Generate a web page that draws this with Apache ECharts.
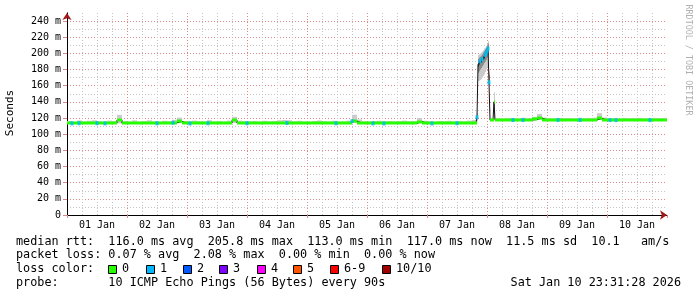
<!DOCTYPE html>
<html><head><meta charset="utf-8">
<script src="https://cdn.jsdelivr.net/npm/echarts@6/dist/echarts.min.js"></script>
<style>html,body{margin:0;padding:0;background:#fff}#c{width:697px;height:297px}</style>
</head><body><div id="c"></div>
<script>
// ---- data (hours since 01 Jan 00:00) ----
const dayLabels = ['01 Jan','02 Jan','03 Jan','04 Jan','05 Jan','06 Jan','07 Jan','08 Jan','09 Jan','10 Jan'];

const hours = [
  0,2,4,6,8,10,12,14,16,18,20,22,
  24,26,28,30,32,34,36,38,40,42,44,46,
  48,50,52,54,56,58,60,62,64,66,68,70,
  72,74,76,78,80,82,84,86,88,90,92,94,
  96,98,100,102,104,106,108,110,112,114,116,118,
  120,122,124,126,128,130,132,134,136,138,140,142,
  144,146,148,150,152,154,156,158,160,162,
  163.6,164.0,164.4,164.8,165.2,165.6,166.0,166.4,166.8,167.2,167.6,168.0,168.4,168.8,169.2,169.6,170.0,170.4,170.8,171.2,171.6,
  172,174,176,178,180,182,184,186,188,190,192,194,196,198,200,202,204,206,208,210,
  212,214,216,218,220,222,224,226,228,230,232,234,236,238,240
];
const median = [
  113.5,113.4,113.6,113.3,113.5,113.9,113.6,113.4,113.5,113.7,117.5,113.6,
  113.4,113.5,113.3,113.6,113.4,113.5,113.4,113.6,113.5,114.2,115.8,113.6,
  113.3,113.4,113.5,113.3,113.6,113.4,113.5,113.4,113.6,117.2,113.8,113.4,
  113.5,113.4,113.6,113.5,113.4,113.5,113.7,114.2,113.9,113.5,113.4,113.5,
  113.3,113.4,113.5,113.6,113.4,113.5,113.3,113.4,113.6,116.2,113.8,113.4,
  113.3,113.4,113.5,113.3,113.4,113.5,113.4,113.6,113.5,113.4,115.6,113.7,
  113.4,113.3,113.5,113.4,113.6,113.4,113.5,113.4,113.6,113.8,
  113.6,121,186,188,190,191,193,194,196,198,200,203,206,164,117.6,117.5,117.4,117.5,140,117.6,117.5,
  117.5,117.4,117.6,117.5,117.4,117.6,117.5,118.2,120.0,117.8,117.5,117.4,117.6,117.5,117.4,117.5,117.6,117.4,117.5,117.6,
  119.5,117.7,117.5,117.4,117.5,117.6,117.4,117.5,117.6,117.5,117.4,117.5,117.6,117.5,117.5
];
const smokeLo = [
  112.9,112.8,113.0,112.7,112.9,113.2,113.0,112.8,112.9,113.1,113.4,113.0,
  112.8,112.9,112.7,113.0,112.8,112.9,112.8,113.0,112.9,113.4,113.9,113.0,
  112.7,112.8,112.9,112.7,113.0,112.8,112.9,112.8,113.0,113.8,113.2,112.8,
  112.9,112.8,113.0,112.9,112.8,112.9,113.1,113.5,113.3,112.9,112.8,112.9,
  112.7,112.8,112.9,113.0,112.8,112.9,112.7,112.8,113.0,113.9,113.2,112.8,
  112.7,112.8,112.9,112.7,112.8,112.9,112.8,113.0,112.9,112.8,113.6,113.1,
  112.8,112.7,112.9,112.8,113.0,112.8,112.9,112.8,113.0,113.2,
  112.9,116,166,166,167,168,170,172,174,177,180,183,186,160,117,117,116.9,117,120,117,116.9,
  116.9,116.8,117.0,116.9,116.8,117.0,116.9,117.4,117.8,117.1,116.9,116.8,117.0,116.9,116.8,116.9,117.0,116.8,116.9,117.0,
  117.6,117.1,116.9,116.8,116.9,117.0,116.8,116.9,117.0,116.9,116.8,116.9,117.0,116.9,116.9
];
const smokeHi = [
  116.4,115.3,117.0,115.6,116.6,117.2,115.9,115.4,116.8,116.2,124.0,116.1,
  115.5,117.1,115.6,116.4,117.2,115.8,115.5,116.6,116.1,117.8,120.5,116.4,
  115.6,116.8,116.0,115.7,117.3,115.9,116.2,115.5,116.8,121.5,116.8,116.1,
  115.8,116.4,115.6,116.6,115.9,116.3,117.2,117.6,117.3,116.1,116.6,115.7,
  115.5,116.4,117.0,116.1,115.7,116.6,115.6,115.9,116.8,124.0,118.2,116.0,
  115.6,116.3,116.7,115.8,116.2,115.9,116.3,116.8,116.0,116.2,120.0,116.7,
  115.9,115.6,116.4,116.1,116.6,115.8,116.4,115.9,116.8,117.6,
  116.5,126,198,199,200,201,202,204,206,207,209,212,215,178,119.5,119.8,119.6,120.1,152,119.9,119.6,
  119.7,119.4,120.1,119.7,119.5,120.3,119.7,121.5,125.0,120.6,119.7,119.5,120.2,119.7,120.0,119.5,120.3,119.7,120.0,120.4,
  126.0,120.7,119.7,120.1,119.5,120.2,119.7,120.1,120.3,119.7,120.0,120.2,119.7,120.1,120.0
];
// darker inner smoke during the 07 Jan spike (last entry closes the band)
const darkHours = [164.4,164.8,165.2,165.6,166.0,166.4,166.8,167.2,167.6,168.0,168.4,168.8,169.2];
const darkLo    = [176,178,180,182,184,186,188,190,192,195,198,162,null];
const darkHi    = [193,195,196,197,199,201,203,205,207,210,212,174,null];
// median drawn dark (no loss colour visible) during the spike
const darkMedianHours = [164.4,164.8,165.6,166.4,166.8];
// times with 1/10 packet loss
const loss1Hours = [2,4.8,12,15.2,36,42.4,49.2,56.4,72,88,107.6,114,122.4,126.8,146,156,
  164.0,165.2,166.0,167.2,167.6,168.0,168.4,168.8,
  178.4,182.4,196.4,205.2,217.2,219.6,233.2];

const lossLabels = ['0','1','2','3','4','5','6-9','10/10'];
const lossColors = ['#26ff00','#00b8ff','#0059ff','#7e00ff','#ff00ff','#ff5500','#ff0000','#a00000'];

// ---- build ----
const MONO = '"DejaVu Sans Mono", monospace';
function medianAt(h){ let v = median[0]; for (let i=0;i<hours.length;i++){ if (hours[i] <= h + 1e-9) v = median[i]; } return v; }

const smokeData = [], medData = [], darkData = [];
for (let i=0;i<hours.length-1;i++){
  smokeData.push([hours[i], hours[i+1], smokeLo[i], smokeHi[i]]);
  const dark = darkMedianHours.some(function(h){ return Math.abs(h-hours[i]) < 1e-6; });
  medData.push([hours[i], hours[i+1], median[i], dark ? 1 : 0]);
}
for (let i=0;i<darkHours.length-1;i++) darkData.push([darkHours[i], darkHours[i+1], darkLo[i], darkHi[i]]);

function bandRenderer(color){
  return function(params, api){
    const p0 = api.coord([api.value(0), api.value(3)]);
    const p1 = api.coord([api.value(1), api.value(2)]);
    return {type:'rect', shape:{x:p0[0], y:p0[1], width:p1[0]-p0[0], height:p1[1]-p0[1]}, style:{fill:color}};
  };
}

const chart = echarts.init(document.getElementById('c'), null, {renderer:'canvas', width:697, height:297});
const minorSplit = {show:true, showMinLine:false, showMaxLine:false, lineStyle:{color:'#c4c4c4', type:[1,2], width:1}};
const majorSplit = {show:true, showMinLine:false, showMaxLine:false, lineStyle:{color:'#e08888', type:[1,2], width:1}};

const graphics = [
  {type:'text', x:10, y:113, rotation:Math.PI/2, style:{text:'Seconds', font:'11px '+MONO, fill:'#000', align:'center', verticalAlign:'middle'}},
  {type:'text', x:688, y:60, rotation:-Math.PI/2, style:{text:'RRDTOOL / TOBI OETIKER', font:'8.4px '+MONO, fill:'#b0b0b0', align:'center', verticalAlign:'middle'}}
];
function txt(x, y, s, align){ graphics.push({type:'text', x:x, y:y, style:{text:s, font:'11.8px '+MONO, fill:'#000', align:align||'left', verticalAlign:'middle'}}); }
txt(16,241.5,'median rtt:  116.0 ms avg  205.8 ms max  113.0 ms min  117.0 ms now  11.5 ms sd  10.1   am/s');
txt(16,255,'packet loss: 0.07 % avg  2.08 % max  0.00 % min  0.00 % now');
txt(16,269,'loss color:');
const boxX = [108,146,183,219,257,293,330,382];
for (let i=0;i<lossLabels.length;i++){
  graphics.push({type:'rect', shape:{x:boxX[i]+0.5, y:265.5, width:8, height:8}, style:{fill:lossColors[i], stroke:'#000', lineWidth:1}});
  txt(boxX[i]+14, 269, lossLabels[i]);
}
txt(16,282.7,'probe:       10 ICMP Echo Pings (56 Bytes) every 90s');
txt(681,282.7,'Sat Jan 10 23:31:28 2026','right');

chart.setOption({
  animation:false,
  backgroundColor:'#fff',
  grid:{left:67, right:30, top:13, bottom:82, containLabel:false, outerBoundsMode:'none'},
  xAxis:[
    {type:'value', min:0, max:240, interval:6, position:'bottom',
     axisLine:{show:true, onZero:false, symbol:['none','arrow'], symbolSize:[7,7], lineStyle:{color:'#a01818', width:1}},
     axisTick:{show:false},
     axisLabel:{show:true, margin:5, fontFamily:MONO, fontSize:10, color:'#000', showMinLabel:true, showMaxLabel:true,
       formatter:function(v){ return (v % 24 === 12) ? dayLabels[(v-12)/24] : ''; }},
     splitLine:minorSplit},
    {type:'value', min:0, max:240, interval:24, position:'bottom',
     axisLine:{show:true, onZero:false, lineStyle:{color:'#000', width:1}},
     axisTick:{show:true, length:3, lineStyle:{color:'#e08888'}},
     axisLabel:{show:false}, splitLine:majorSplit}
  ],
  yAxis:[
    {type:'value', min:0, max:250, interval:10, position:'left',
     axisLine:{show:true, onZero:false, symbol:['none','arrow'], symbolSize:[7,7], lineStyle:{color:'#a01818', width:1}},
     axisTick:{show:false}, axisLabel:{show:false}, splitLine:minorSplit},
    {type:'value', min:0, max:250, interval:20, position:'left',
     axisLine:{show:true, onZero:false, lineStyle:{color:'#000', width:1}},
     axisTick:{show:true, length:4, lineStyle:{color:'#e08888'}},
     axisLabel:{margin:6, fontFamily:MONO, fontSize:10, color:'#000', showMaxLabel:false,
       formatter:function(v){ return v === 0 ? '0' : v + ' m'; }},
     splitLine:majorSplit}
  ],
  series:[
    {type:'custom', name:'smoke', xAxisIndex:0, yAxisIndex:0, z:1, silent:true, data:smokeData,
     encode:{x:[0,1], y:[2,3]}, renderItem:bandRenderer('#cbcbcb')},
    {type:'custom', name:'smokeDark', xAxisIndex:0, yAxisIndex:0, z:2, silent:true, data:darkData,
     encode:{x:[0,1], y:[2,3]}, renderItem:bandRenderer('#8c8c8c')},
    {type:'line', name:'medianStep', xAxisIndex:0, yAxisIndex:0, z:3, silent:true, step:'end', symbol:'none',
     data:hours.map(function(h,i){ return [h, median[i]]; }), lineStyle:{color:'#111', width:1}},
    {type:'custom', name:'median', xAxisIndex:0, yAxisIndex:0, z:4, silent:true, data:medData,
     encode:{x:[0,1], y:2},
     renderItem:function(params, api){
       const p0 = api.coord([api.value(0), api.value(2)]);
       const p1 = api.coord([api.value(1), api.value(2)]);
       const col = api.value(3) ? '#222222' : lossColors[0];
       return {type:'rect', shape:{x:p0[0], y:Math.round(p0[1])-1.5, width:p1[0]-p0[0], height:3}, style:{fill:col}};
     }},
    {type:'scatter', name:'loss1', xAxisIndex:0, yAxisIndex:0, z:5, silent:true, symbol:'rect', symbolSize:[3,4],
     data:loss1Hours.map(function(h){ return [h, medianAt(h)]; }), itemStyle:{color:lossColors[1]}}
  ],
  graphic: graphics
});
</script>
</body></html>
